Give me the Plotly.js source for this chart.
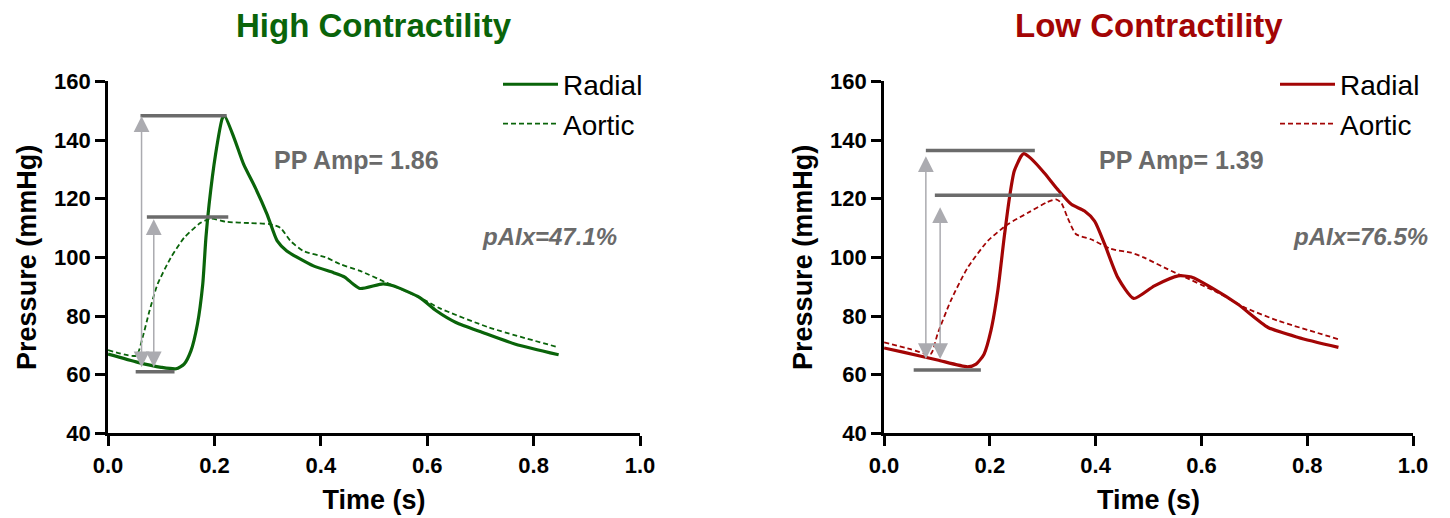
<!DOCTYPE html>
<html>
<head>
<meta charset="utf-8">
<script src="https://cdn.plot.ly/plotly-3.0.1.min.js"></script>
<style>html,body{margin:0;padding:0;background:#fff;}#chart{width:1450px;height:518px;}</style>
</head>
<body>
<div id="chart"></div>
<script>
// ---------- data ----------
var highRadialT = [0.000,0.056,0.100,0.128,0.143,0.156,0.168,0.178,0.184,0.190,0.202,0.215,0.219,0.237,0.255,0.277,0.299,0.318,0.336,0.386,0.424,0.445,0.460,0.474,0.517,0.536,0.586,0.617,0.654,0.704,0.766,0.847];
var highRadialP = [67.0,64.2,62.5,62.0,63.6,68.2,77.2,90.8,106.7,118.1,135.0,147.5,148.3,140.7,131.7,123.7,114.7,105.6,102.2,97.1,94.8,93.3,91.0,89.4,91.0,90.3,86.3,81.8,77.8,74.4,70.4,66.8];
var highAorticT = [0.000,0.053,0.065,0.078,0.093,0.118,0.143,0.174,0.193,0.224,0.268,0.305,0.324,0.343,0.367,0.411,0.436,0.474,0.523,0.586,0.623,0.716,0.847];
var highAorticP = [68.4,66.5,72.7,81.8,90.8,99.9,106.7,111.8,113.2,112.1,111.7,111.3,110.1,105.6,102.2,99.9,97.7,95.4,91.4,86.3,82.7,76.1,69.3];

var lowRadialT = [0.000,0.038,0.101,0.158,0.174,0.189,0.202,0.215,0.227,0.237,0.246,0.259,0.264,0.278,0.303,0.328,0.354,0.379,0.398,0.417,0.442,0.472,0.511,0.556,0.581,0.619,0.669,0.726,0.783,0.859];
var lowRadialP = [69.1,67.6,65.0,62.7,63.6,67.0,75.0,88.6,106.7,120.3,129.4,134.5,135.4,133.7,128.8,123.2,118.1,115.8,112.4,104.5,93.1,86.0,90.3,93.7,93.3,89.7,84.0,76.1,72.7,69.3];
var lowAorticT = [0.000,0.050,0.088,0.101,0.126,0.158,0.196,0.234,0.272,0.309,0.325,0.335,0.347,0.363,0.391,0.429,0.467,0.492,0.530,0.556,0.631,0.682,0.745,0.859];
var lowAorticP = [71.0,68.7,67.0,73.8,85.2,96.5,105.6,111.3,115.2,118.9,119.8,118.6,113.5,107.9,106.2,102.9,101.6,99.9,96.5,94.3,88.0,82.9,78.4,72.1];

// reference bars: [x start, x end, level]
var highBars = [[0.061,0.223,148.3],[0.073,0.226,113.8],[0.052,0.125,61.0]];
var lowBars  = [[0.079,0.285,136.5],[0.096,0.336,121.2],[0.056,0.183,61.6]];
// double arrows: [x, bottom tip, top tip]
var highArrows = [[0.063,62.0,148.1],[0.086,62.0,113.0]];
var lowArrows  = [[0.079,64.8,134.5],[0.106,64.8,117.1]];

var panelTitles = ['High Contractility','Low Contractility'];
var ppAmpLabels = ['PP Amp= 1.86','PP Amp= 1.39'];
var paixLabels = ['pAIx=47.1%','pAIx=76.5%'];
var seriesNames = ['Radial','Aortic'];
var xTickVals = [0,0.2,0.4,0.6,0.8,1.0];
var yTickVals = [40,60,80,100,120,140,160];

// ---------- styling ----------
var GREEN = '#0a640a', RED = '#a30505';
var FONT = 'Liberation Sans, Arial, sans-serif';
var BARCOL = '#6b6b6b', ARROWCOL = '#ababb0', TXTGRAY = '#6a6a6a';

var traces = [];
function addPanel(xa, ya, color, legendId, rT, rP, aT, aP, bars) {
  traces.push({x: rT, y: rP, xaxis: xa, yaxis: ya, type: 'scatter', mode: 'lines', name: seriesNames[0],
    line: {color: color, width: 3.2, shape: 'spline', smoothing: 0.6}, legend: legendId});
  traces.push({x: aT, y: aP, xaxis: xa, yaxis: ya, type: 'scatter', mode: 'lines', name: seriesNames[1],
    line: {color: color, width: 1.8, dash: '5px,3px', shape: 'spline', smoothing: 0.6}, legend: legendId});
  bars.forEach(function (b) {
    traces.push({x: [b[0], b[1]], y: [b[2], b[2]], xaxis: xa, yaxis: ya, type: 'scatter', mode: 'lines',
      line: {color: BARCOL, width: 3.5}, showlegend: false, hoverinfo: 'skip'});
  });
}
addPanel('x', 'y', GREEN, 'legend', highRadialT, highRadialP, highAorticT, highAorticP, highBars);
addPanel('x2', 'y2', RED, 'legend2', lowRadialT, lowRadialP, lowAorticT, lowAorticP, lowBars);

function axisX(domain, anchor) {
  return {domain: domain, anchor: anchor, range: [0, 1], tickvals: xTickVals, tickformat: '.1f',
    ticks: 'outside', ticklen: 10, tickwidth: 3, tickcolor: '#000', showline: true, linewidth: 3, linecolor: '#000',
    showgrid: false, zeroline: false, fixedrange: true,
    tickfont: {family: FONT, size: 22, color: '#000', weight: 'bold'},
    title: {text: 'Time (s)', font: {family: FONT, size: 27, color: '#000', weight: 'bold'}, standoff: 14}};
}
function axisY(domain, anchor) {
  return {domain: domain, anchor: anchor, range: [40, 160], tickvals: yTickVals,
    ticks: 'outside', ticklen: 10, tickwidth: 3, tickcolor: '#000', showline: true, linewidth: 3, linecolor: '#000',
    showgrid: false, zeroline: false, fixedrange: true,
    tickfont: {family: FONT, size: 22, color: '#000', weight: 'bold'},
    title: {text: 'Pressure (mmHg)', font: {family: FONT, size: 27, color: '#000', weight: 'bold'}, standoff: 10}};
}

var yDom = [0.1635, 0.8427];
var annotations = [];
[['x', 'y', GREEN, highArrows, 0], ['x2', 'y2', RED, lowArrows, 1]].forEach(function (p) {
  var xr = p[0], yr = p[1], i = p[4];
  annotations.push({xref: xr + ' domain', yref: 'paper', x: 0.5, y: 0.950, xanchor: 'center', yanchor: 'middle',
    text: '<b>' + panelTitles[i] + '</b>', showarrow: false, font: {family: FONT, size: 33, color: p[2]}});
  annotations.push({xref: xr, yref: yr, x: i === 0 ? 0.467 : 0.5625, y: 133.2, xanchor: 'center', yanchor: 'middle',
    text: '<b>' + ppAmpLabels[i] + '</b>', showarrow: false, font: {family: FONT, size: 25, color: TXTGRAY}});
  annotations.push({xref: xr, yref: yr, x: i === 0 ? 0.830 : 0.900, y: 107.2, xanchor: 'center', yanchor: 'middle',
    text: '<b><i>' + paixLabels[i] + '</i></b>', showarrow: false, font: {family: FONT, size: 24, color: TXTGRAY}});
  p[3].forEach(function (a) {
    annotations.push({xref: xr, yref: yr, axref: xr, ayref: yr, x: a[0], y: a[2], ax: a[0], ay: a[1], text: '',
      showarrow: true, arrowside: 'end+start', arrowhead: 2, startarrowhead: 2, arrowsize: 2.1, startarrowsize: 2.1,
      arrowwidth: 1.5, arrowcolor: ARROWCOL, standoff: 0, startstandoff: 0});
  });
});

var layout = {
  width: 1450, height: 518, margin: {l: 0, r: 0, t: 0, b: 0},
  paper_bgcolor: '#fff', plot_bgcolor: '#fff', font: {family: FONT},
  xaxis: axisX([0.0745, 0.4414], 'y'), yaxis: axisY(yDom, 'x'),
  xaxis2: axisX([0.6097, 0.9745], 'y2'), yaxis2: axisY(yDom, 'x2'),
  legend: {x: 498 / 1450, y: 0.885, xanchor: 'left', yanchor: 'top', itemwidth: 55, bgcolor: 'rgba(0,0,0,0)',
    font: {family: FONT, size: 28, color: '#000'}},
  legend2: {x: 1275 / 1450, y: 0.885, xanchor: 'left', yanchor: 'top', itemwidth: 55, bgcolor: 'rgba(0,0,0,0)',
    font: {family: FONT, size: 28, color: '#000'}},
  annotations: annotations,
  showlegend: true
};
Plotly.newPlot('chart', traces, layout, {displayModeBar: false, staticPlot: true});
</script>
</body>
</html>
